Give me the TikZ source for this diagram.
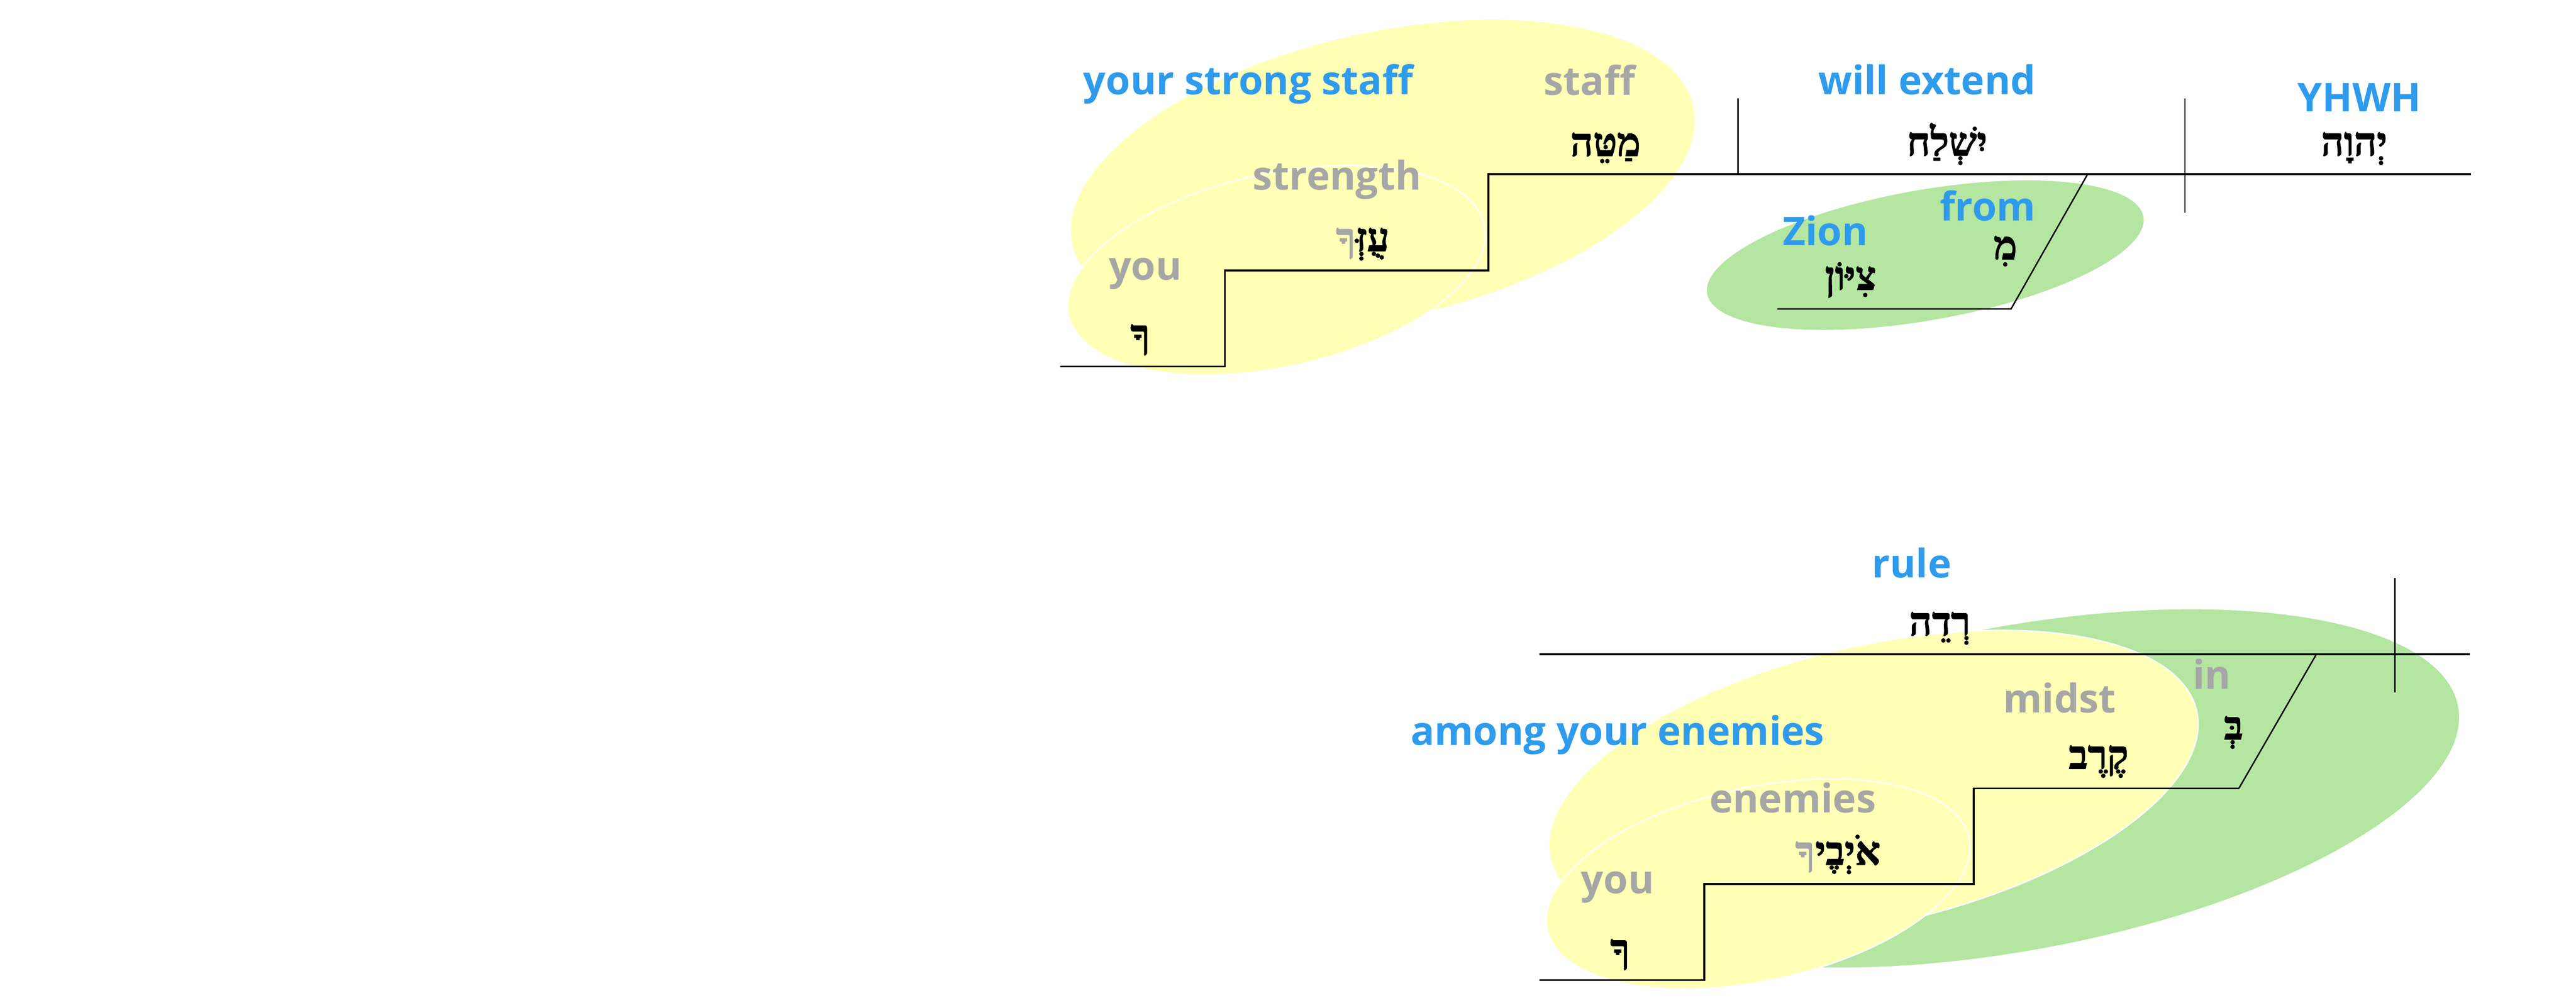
\documentclass[tikz,border=0pt]{standalone}
\usepackage{fontspec}
\usepackage{xcolor}
\usetikzlibrary{calc}
\setmainfont{Open Sans}
\newfontfamily\hebfont[Script=Hebrew,UprightFont=* Bold,FakeBold=1.8]{Liberation Serif}
\TeXXeTstate=1
\definecolor{LabelBlue}{RGB}{47,155,236}
\definecolor{GlossGray}{RGB}{166,166,166}
\definecolor{BlobYellow}{RGB}{255,255,181}
\definecolor{BlobGreen}{RGB}{180,230,161}
\tikzstyle{eng}=[inner sep=0pt,anchor=base,font=\bfseries\fontsize{28}{32}\selectfont]
\tikzstyle{phrase}=[eng,text=LabelBlue]
\tikzstyle{gloss}=[eng,text=GlossGray]
\tikzstyle{heb}=[inner sep=0pt,anchor=base,font=\hebfont\fontsize{28}{32}\selectfont]
\tikzstyle{hebsuffix}=[heb,text=GlossGray,anchor=base east]
\tikzstyle{yelblob}=[fill=BlobYellow,draw=white,line width=1pt]
\tikzstyle{grnblob}=[fill=BlobGreen,draw=white,line width=1pt]
\tikzset{diag/.style={draw=black,line width=1.3pt,line join=miter},
  divider/.style={draw=black,line width=1pt}}
\newcommand*{\rtl}[1]{\beginR #1\endR}

\begin{document}
\begin{tikzpicture}[scale=1]
    \useasboundingbox (0,0) rectangle (64.10,-24.96);

    % blobs
    \coordinate (TopBig) at (34.41,-4.365);
    \coordinate (TopSmall) at (31.765,-6.725);
    \coordinate (TopGreen) at (47.90,-6.35);
    \coordinate (BotGreen) at (50.175,-19.62);
    \coordinate (BotBig) at (46.62,-19.53);
    \coordinate (BotSmall) at (43.75,-21.995);
    \filldraw [yelblob, rotate around={12.6:(TopBig)}] (TopBig) ellipse (7.93 and 3.57);
    \filldraw [yelblob, rotate around={12.3:(TopSmall)}] (TopSmall) ellipse (5.29 and 2.406);
    \filldraw [grnblob, rotate around={10:(TopGreen)}] (TopGreen) ellipse (5.53 and 1.64);
    \filldraw [grnblob, rotate around={10.5:(BotGreen)}] (BotGreen) ellipse (11.20 and 4.05);
    \filldraw [yelblob, rotate around={12.9:(BotBig)}] (BotBig) ellipse (8.25 and 3.46);
    \filldraw [yelblob, rotate around={12.3:(BotSmall)}] (BotSmall) ellipse (5.37 and 2.406);

    % upper clause
    \coordinate (T0) at (26.38,-9.12);
    \coordinate (T1) at (30.48,-9.12);
    \coordinate (T2) at (30.48,-6.73);
    \coordinate (T3) at (37.04,-6.73);
    \coordinate (T4) at (37.04,-4.33);
    \coordinate (T5) at (61.48,-4.33);
    \coordinate (ObjTop) at (43.25,-2.45);
    \coordinate (ObjFoot) at (43.25,-4.33);
    \coordinate (SubjTop) at (54.37,-2.45);
    \coordinate (SubjFoot) at (54.37,-5.30);
    \coordinate (FromTop) at (51.95,-4.33);
    \coordinate (FromFoot) at (50.04,-7.69);
    \coordinate (ZionEnd) at (44.23,-7.69);
    \draw [diag] (T0) -- (T1) -- (T2) -- (T3) -- (T4) -- (T5);
    \draw [divider] (ObjTop) -- (ObjFoot);
    \draw [divider] (SubjTop) -- (SubjFoot);
    \draw [divider] (FromTop) -- (FromFoot) -- (ZionEnd);

    \node [phrase] (YourStaff) at (31.06,-2.35) {your strong staff};
    \node [gloss] (Staff) at (39.55,-2.36) {staff};
    \node [heb] (Matteh) at (39.95,-3.88) {\rtl{מַטֵּה}};
    \node [gloss] (Strength) at (33.27,-4.73) {strength};
    \node [heb,anchor=base east] (Uzz) at (34.58,-6.25) {\rtl{עֻזְּ}};
    \node [hebsuffix] (UzzSuffix) at (Uzz.base west) {\rtl{ךָ}};
    \node [gloss] (YouA) at (28.50,-6.97) {you};
    \node [heb] (KafA) at (28.37,-8.65) {\rtl{ךָ}};
    \node [phrase] (Extend) at (47.95,-2.35) {will extend};
    \node [heb] (Yishlach) at (48.45,-3.87) {\rtl{יִשְׁלַח}};
    \node [phrase] (YHWH) at (58.71,-2.77) {YHWH};
    \node [heb] (Name) at (58.58,-3.87) {\rtl{יְהוָה}};
    \node [phrase] (From) at (49.46,-5.49) {from};
    \node [heb] (Min) at (49.90,-6.45) {\rtl{מִ}};
    \node [phrase] (Zion) at (45.42,-6.11) {Zion};
    \node [heb] (Tsiyon) at (46.05,-7.21) {\rtl{צִיּוֹן}};

    % lower clause
    \coordinate (B0) at (38.30,-24.39);
    \coordinate (B1) at (42.41,-24.39);
    \coordinate (B2) at (42.41,-22.00);
    \coordinate (B3) at (49.11,-22.00);
    \coordinate (B4) at (49.11,-19.62);
    \coordinate (B5) at (55.71,-19.62);
    \coordinate (B6) at (57.64,-16.28);
    \coordinate (RuleStart) at (38.30,-16.28);
    \coordinate (RuleEnd) at (61.46,-16.28);
    \coordinate (SplitTop) at (59.59,-14.38);
    \coordinate (SplitFoot) at (59.59,-17.23);
    \draw [diag] (RuleStart) -- (RuleEnd);
    \draw [diag] (B0) -- (B1) -- (B2) -- (B3) -- (B4) -- (B5);
    \draw [divider] (B5) -- (B6);
    \draw [divider] (SplitTop) -- (SplitFoot);

    \node [phrase] (Rule) at (47.57,-14.38) {rule};
    \node [heb] (Redeh) at (48.27,-15.81) {\rtl{רְדֵה}};
    \node [phrase] (Among) at (40.25,-18.54) {among your enemies};
    \node [gloss] (Midst) at (51.25,-17.74) {midst};
    \node [heb] (Qerev) at (52.22,-19.13) {\rtl{קֶרֶב}};
    \node [gloss] (In) at (55.04,-17.15) {in};
    \node [heb] (Be) at (55.58,-18.40) {\rtl{בְּ}};
    \node [gloss] (Enemies) at (44.61,-20.22) {enemies};
    \node [heb,anchor=base east] (Oyvecha) at (46.80,-21.52) {\rtl{אֹיְבֶי}};
    \node [hebsuffix] (OyvechaSuffix) at (Oyvecha.base west) {\rtl{ךָ}};
    \node [gloss] (YouB) at (40.25,-22.23) {you};
    \node [heb] (KafB) at (40.31,-23.95) {\rtl{ךָ}};
\end{tikzpicture}
\end{document}
